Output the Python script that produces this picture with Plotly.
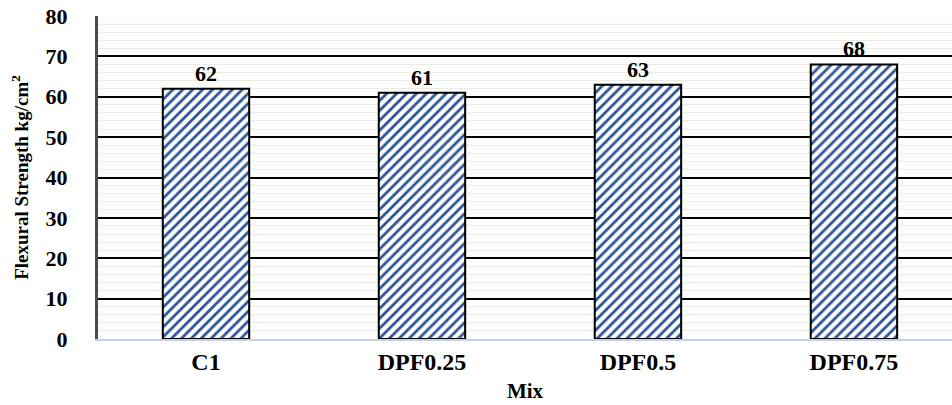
import plotly.graph_objects as go

# Flexural strength per mix
mixes = ["C1", "DPF0.25", "DPF0.5", "DPF0.75"]
strength = [62, 61, 63, 68]

y_ticks = [0, 10, 20, 30, 40, 50, 60, 70, 80]

serif = "Liberation Serif"

fig = go.Figure()
fig.add_trace(go.Bar(
    x=mixes,
    y=strength,
    width=0.4,
    marker=dict(
        color="white",
        line=dict(color="black", width=2),
        pattern=dict(shape="/", fgcolor="#2F5597", bgcolor="white",
                     size=7, solidity=0.4, fillmode="replace"),
    ),
    text=[str(v) for v in strength],
    textposition="outside",
    textfont=dict(family=serif, size=22, color="black", weight="bold"),
    cliponaxis=False,
    showlegend=False,
))

fig.update_layout(
    width=952,
    height=405,
    margin=dict(l=98, r=0, t=16, b=66),
    paper_bgcolor="white",
    plot_bgcolor="#FDFDFB",
    font=dict(family=serif, color="black", weight="bold"),
    bargap=0.6,
)

fig.update_xaxes(
    range=[-0.5, 3.454],
    showline=True, linecolor="#C5D0E2", linewidth=1.5,
    showgrid=False, ticks="",
    tickfont=dict(family=serif, size=24, color="black", weight="bold"),
    title=dict(text="Mix", font=dict(family=serif, size=21, color="black", weight="bold"),
               standoff=10),
)

fig.update_yaxes(
    range=[0, 80],
    tickvals=y_ticks,
    tickfont=dict(family=serif, size=22, color="black", weight="bold"),
    ticks="", ticklabelstandoff=23,
    showgrid=True, gridcolor="black", gridwidth=1.5,
    minor=dict(dtick=2, showgrid=True, gridcolor="#EBEBE6", gridwidth=1),
    showline=True, linecolor="#4D4D4D", linewidth=3,
    zeroline=False,
    title=dict(text="Flexural Strength kg/cm<sup>2</sup>",
               font=dict(family=serif, size=19, color="black", weight="bold"), standoff=12),
)

fig.write_html("out.html")
